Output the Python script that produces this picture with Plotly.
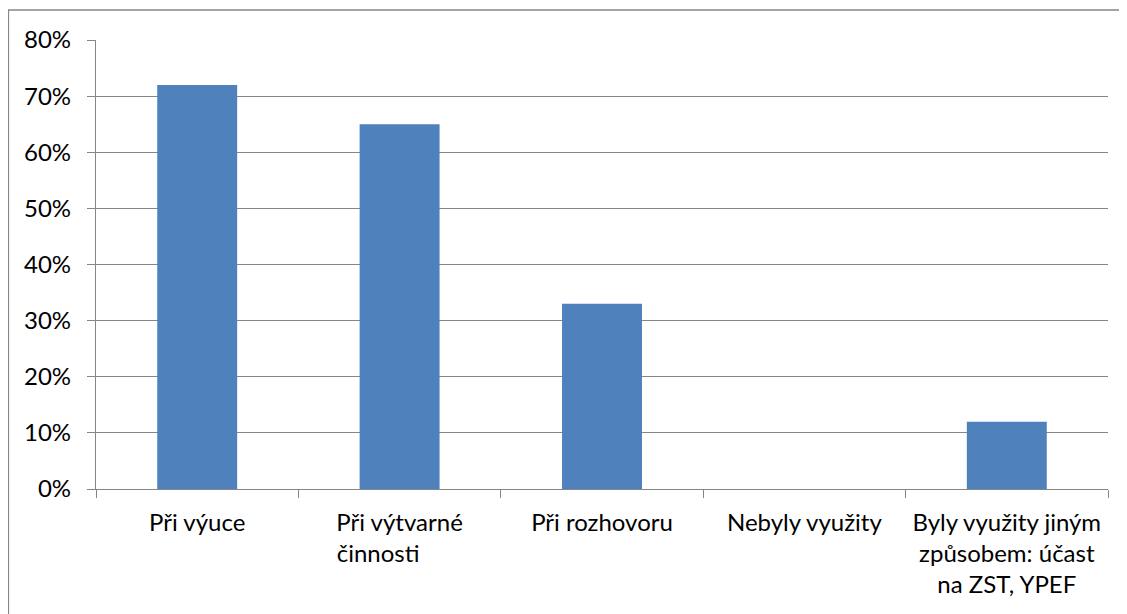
import plotly.graph_objects as go

categories = [
    "Při výuce",
    "Při výtvarné<br>činnosti" + "&nbsp;" * 7,
    "Při rozhovoru",
    "Nebyly využity",
    "Byly využity jiným<br>způsobem: účast<br>na ZST, YPEF",
]
values = [0.72, 0.65, 0.33, 0.0, 0.12]
y_ticks = [0, 0.1, 0.2, 0.3, 0.4, 0.5, 0.6, 0.7, 0.8]

GRAY = "#868686"
FONT = "Lato"
FS = 24

fig = go.Figure(go.Bar(x=categories, y=values, marker_color="#4F81BD",
                       marker_line_width=0))

fig.update_layout(
    width=1119, height=606,
    margin=dict(l=88, r=19, t=32, b=125),
    paper_bgcolor="white", plot_bgcolor="white",
    bargap=0.605, showlegend=False,
    font=dict(family=FONT, size=FS, color="black"),
    shapes=[dict(type="rect", xref="paper", yref="paper",
                 x0=-0.0865, x1=1.2, y0=-0.6, y1=1.0668,
                 line=dict(color=GRAY, width=1.3), fillcolor="rgba(0,0,0,0)",
                 layer="below")],
)
fig.update_xaxes(
    showline=True, linecolor=GRAY, linewidth=1.3,
    ticks="outside", tickson="boundaries", ticklen=8, tickcolor=GRAY, tickwidth=1.3,
    showgrid=False, tickangle=0, ticklabelstandoff=12,
    tickfont=dict(family=FONT, size=FS, color="black"),
)
fig.update_yaxes(
    range=[0, 0.8], tickvals=y_ticks, tickformat=".0%",
    showline=True, linecolor=GRAY, linewidth=1.3,
    ticks="outside", ticklen=8, tickcolor=GRAY, tickwidth=1.3,
    showgrid=True, gridcolor=GRAY, gridwidth=1.3, zeroline=False,
    ticklabelstandoff=11,
    tickfont=dict(family=FONT, size=FS, color="black"),
)

fig.write_html("out.html")
